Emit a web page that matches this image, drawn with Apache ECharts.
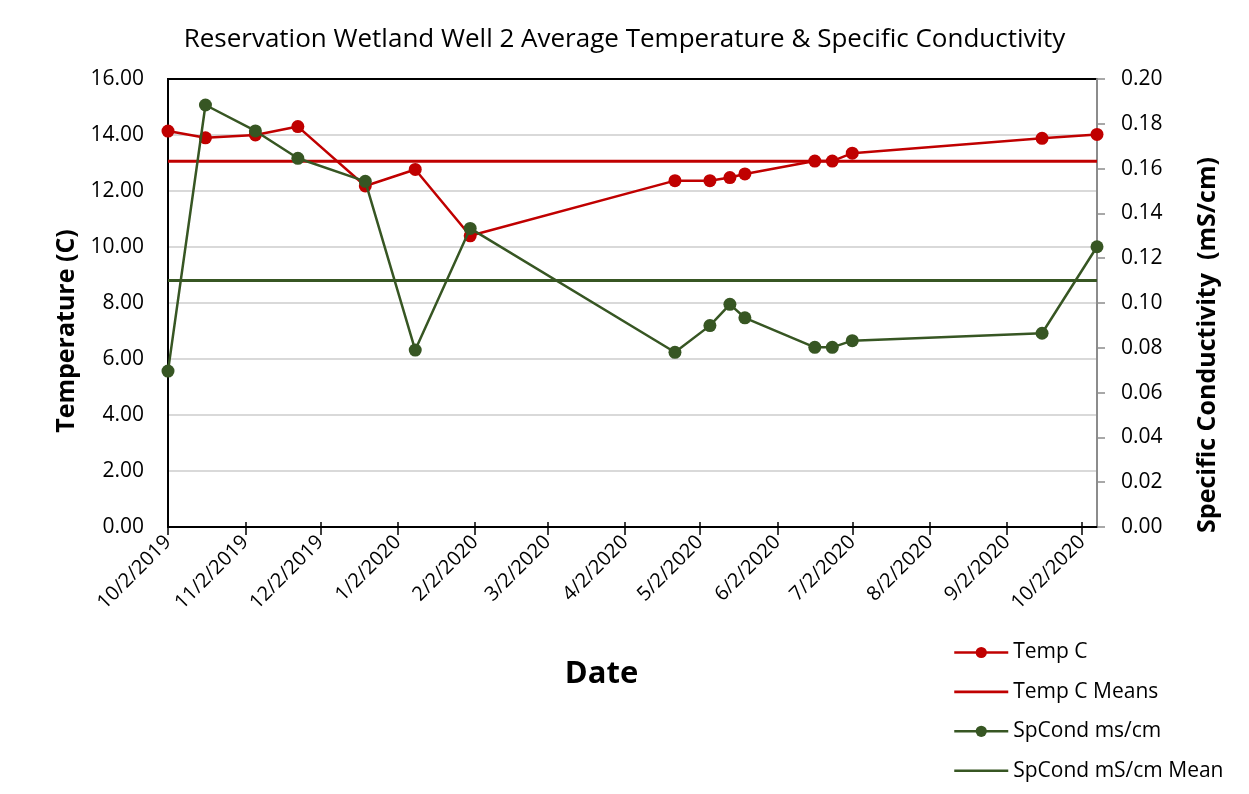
<!DOCTYPE html>
<html>
<head>
<meta charset="utf-8">
<script src="https://cdn.jsdelivr.net/npm/echarts@6/dist/echarts.min.js"></script>
<style>
html,body{margin:0;padding:0;background:#fff;}
#chart{width:1249px;height:794px;outline:2px solid #595959;outline-offset:-2px;}
</style>
</head>
<body>
<div id="chart"></div>
<script>
// ---- data ----
var dates = ['2019-10-02','2019-10-17','2019-11-06','2019-11-23','2019-12-20','2020-01-09','2020-01-31',
             '2020-04-22','2020-05-06','2020-05-14','2020-05-20','2020-06-17','2020-06-24','2020-07-02',
             '2020-09-16','2020-10-08'];
var tempC = [14.14, 13.90, 14.00, 14.30, 12.18, 12.77, 10.40, 12.37, 12.37, 12.48, 12.61, 13.07, 13.07, 13.35, 13.88, 14.02];
var spCond = [0.0696, 0.1884, 0.1768, 0.1646, 0.1543, 0.0790, 0.1333, 0.0780, 0.0899, 0.0994, 0.0934, 0.0802, 0.0802, 0.0832, 0.0865, 0.1251];
var tempMean = 13.06;
var spCondMean = 0.110;
var tickLabels = ['10/2/2019','11/2/2019','12/2/2019','1/2/2020','2/2/2020','3/2/2020','4/2/2020',
                  '5/2/2020','6/2/2020','7/2/2020','8/2/2020','9/2/2020','10/2/2020'];
var leftTicks = [0, 2, 4, 6, 8, 10, 12, 14, 16];
var rightTicks = [0, 0.02, 0.04, 0.06, 0.08, 0.10, 0.12, 0.14, 0.16, 0.18, 0.20];

// ---- helpers ----
var DAY = 86400000;
var origin = Date.UTC(2019, 9, 2);
function isoToDay(s){ var p = s.split('-'); return Math.round((Date.UTC(+p[0], +p[1]-1, +p[2]) - origin)/DAY); }
function mdyToDay(s){ var p = s.split('/'); return Math.round((Date.UTC(+p[2], +p[0]-1, +p[1]) - origin)/DAY); }
var xDays = dates.map(isoToDay);
var tickDays = tickLabels.map(mdyToDay);
var xMin = 0, xMax = xDays[xDays.length-1];

var RED = '#C00000', GREEN = '#375623';
var FONT = 'Open Sans';
var LINE_ICON = 'path://M0,0 L54,0 L54,2.6 L0,2.6 Z';

var tempData = xDays.map(function(d,i){ return [d, tempC[i]]; });
var spData = xDays.map(function(d,i){ return [d, spCond[i]]; });

var chart = echarts.init(document.getElementById('chart'), null, {renderer:'canvas'});
chart.setOption({
  animation: false,
  backgroundColor: '#fff',
  textStyle: {fontFamily: FONT},
  title: {
    text: 'Reservation Wetland Well 2 Average Temperature & Specific Conductivity',
    left: 'center', top: 22,
    textStyle: {fontFamily: FONT, fontSize: 26, fontWeight: 'normal', color: '#000'}
  },
  grid: {left: 168, right: 152, top: 79, bottom: 267, show: true, borderColor: '#000', borderWidth: 2, backgroundColor: 'transparent'},
  legend: {
    orient: 'vertical', left: 948, top: 637,
    itemWidth: 54, itemHeight: 14, itemGap: 18.4,
    lineStyle: {width: 2.5},
    textStyle: {fontFamily: FONT, fontSize: 21, color: '#000', lineHeight: 21},
    data: [
      {name: 'Temp C'},
      {name: 'Temp C Means', icon: LINE_ICON},
      {name: 'SpCond ms/cm'},
      {name: 'SpCond mS/cm Mean', icon: LINE_ICON}
    ]
  },
  xAxis: [{
    type: 'value', min: xMin, max: xMax,
    name: 'Date', nameLocation: 'middle', nameGap: 132,
    nameTextStyle: {fontFamily: FONT, fontSize: 31, fontWeight: 'bold', color: '#000', padding: [0, 62, 0, 0]},
    axisLine: {show: true, onZero: false, lineStyle: {color: '#000', width: 2}},
    axisTick: {show: true, inside: false, length: 8, customValues: tickDays, lineStyle: {color: '#000', width: 1.5}},
    axisLabel: {
      customValues: tickDays, rotate: 45, margin: 12,
      fontFamily: FONT, fontSize: 20, color: '#000',
      formatter: function(v){ var i = tickDays.indexOf(Math.round(v)); return i >= 0 ? tickLabels[i] : ''; }
    },
    splitLine: {show: false}
  }, {
    type: 'value', min: xMin, max: xMax, position: 'bottom',
    axisLine: {show: false, onZero: false},
    axisTick: {show: true, inside: true, length: 5, customValues: tickDays, lineStyle: {color: '#000', width: 1.5}},
    axisLabel: {show: false},
    splitLine: {show: false}
  }],
  yAxis: [{
    type: 'value', min: 0, max: 16, interval: 2, position: 'left',
    name: 'Temperature (C)', nameLocation: 'middle', nameGap: 81, nameRotate: 90,
    nameTextStyle: {fontFamily: FONT, fontSize: 25, fontWeight: 'bold', color: '#000', padding: [0, 56, 0, 0]},
    axisLine: {show: true, onZero: false, lineStyle: {color: '#000', width: 2}},
    axisTick: {show: false},
    axisLabel: {margin: 24, fontFamily: FONT, fontSize: 21, color: '#000',
      customValues: leftTicks,
      formatter: function(v){ return v.toFixed(2); }},
    splitLine: {show: true, showMinLine: false, showMaxLine: false, lineStyle: {color: '#D9D9D9', width: 2}}
  }, {
    type: 'value', min: 0, max: 0.2, interval: 0.02, position: 'right',
    name: 'Specific Conductivity  (mS/cm)', nameLocation: 'middle', nameGap: 98, nameRotate: 90,
    nameTextStyle: {fontFamily: FONT, fontSize: 25, fontWeight: 'bold', color: '#000', padding: [0, 84, 0, 0]},
    axisLine: {show: true, onZero: false, lineStyle: {color: '#8C8C8C', width: 2}},
    axisTick: {show: true, inside: false, length: 8, lineStyle: {color: '#8C8C8C', width: 1.5}},
    axisLabel: {margin: 24, fontFamily: FONT, fontSize: 21, color: '#000',
      customValues: rightTicks,
      formatter: function(v){ return v.toFixed(2); }},
    splitLine: {show: false}
  }],
  series: [{
    name: 'Temp C', type: 'line', xAxisIndex: 0, yAxisIndex: 0,
    data: tempData, symbol: 'circle', symbolSize: 13,
    itemStyle: {color: RED}, lineStyle: {color: RED, width: 2.5}, z: 2
  }, {
    name: 'Temp C Means', type: 'line', xAxisIndex: 0, yAxisIndex: 0,
    data: [[xMin, tempMean], [xMax, tempMean]], symbol: 'none', showSymbol: false,
    itemStyle: {color: RED}, lineStyle: {color: RED, width: 3}, z: 3
  }, {
    name: 'SpCond ms/cm', type: 'line', xAxisIndex: 0, yAxisIndex: 1,
    data: spData, symbol: 'circle', symbolSize: 13,
    itemStyle: {color: GREEN}, lineStyle: {color: GREEN, width: 2.5}, z: 4
  }, {
    name: 'SpCond mS/cm Mean', type: 'line', xAxisIndex: 0, yAxisIndex: 1,
    data: [[xMin, spCondMean], [xMax, spCondMean]], symbol: 'none', showSymbol: false,
    itemStyle: {color: GREEN}, lineStyle: {color: GREEN, width: 3}, z: 5
  }]
});
</script>
</body>
</html>
